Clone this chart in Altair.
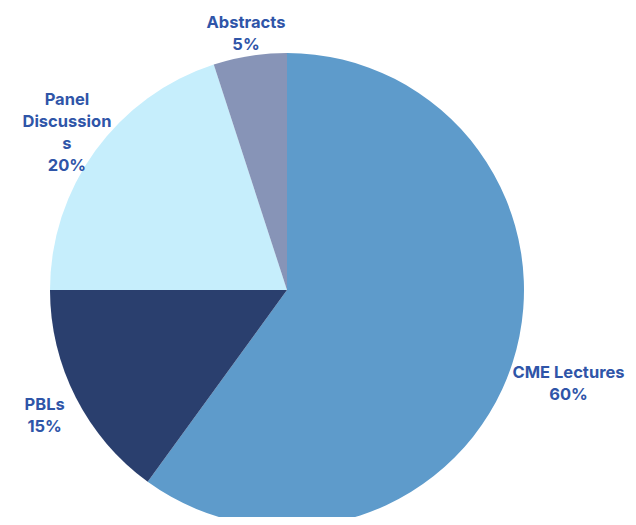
import altair as alt
import pandas as pd

categories = ["CME Lectures", "PBLs", "Panel Discussions", "Abstracts"]
shares = [60, 15, 20, 5]
label_text = ["CME Lectures\n60%", "PBLs\n15%", "Panel\nDiscussion\ns\n20%", "Abstracts\n5%"]
colors = ["#5E9BCB", "#2A3F6E", "#C6EEFC", "#8794B7"]

df = pd.DataFrame({
    "category": categories,
    "share": shares,
    "label": label_text,
    "order": list(range(len(categories))),
})

cx, cy = 279, 282
line_h = 22

pie = alt.Chart(df).mark_arc(outerRadius=237).encode(
    theta=alt.Theta("share:Q", stack=True),
    order=alt.Order("order:Q", sort="ascending"),
    color=alt.Color("category:N", scale=alt.Scale(domain=categories, range=colors), legend=None),
    x=alt.value(cx),
    y=alt.value(cy),
)

text = alt.Chart(df).transform_joinaggregate(
    total="sum(share)"
).transform_window(
    cum="sum(share)", sort=[alt.SortField("order", order="ascending")]
).transform_calculate(
    mid="(datum.cum - datum.share / 2) / datum.total * 2 * PI",
    r="datum.share >= 50 ? 296 : (datum.share <= 5 ? 262 : 272)",
    nl="length(split(datum.label, '\\n'))",
).transform_calculate(
    px=f"{cx} + datum.r * sin(datum.mid)",
    py=f"{cy} - datum.r * cos(datum.mid) - (datum.nl - 1) * {line_h} / 2 + 3",
).mark_text(
    lineBreak="\n", font="Inter", fontWeight="bold", fontSize=16.5, color="#2F55A8",
    lineHeight=line_h, baseline="middle", align="center"
).encode(
    x=alt.X("px:Q", scale=None),
    y=alt.Y("py:Q", scale=None),
    text="label:N",
)

chart = alt.layer(pie, text).properties(
    width=620, height=509, padding=0, autosize=alt.AutoSizeParams(type="none")
).configure_view(stroke=None)

chart.save("out.html", embed_options={"renderer": "svg", "actions": False})
